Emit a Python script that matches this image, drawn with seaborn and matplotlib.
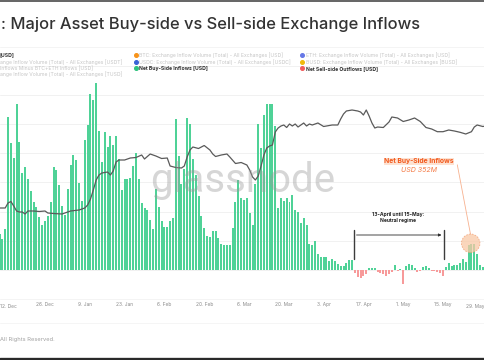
import numpy as np
import pandas as pd
import matplotlib
matplotlib.use("Agg")
import matplotlib.pyplot as plt
import seaborn as sns
from matplotlib.patches import Ellipse
from matplotlib.lines import Line2D

# ------------------------------------------------------------------ data
# daily net exchange flows (USD millions), first bar = 10 Dec 2022
first_day = -2          # days relative to 12 Dec 2022
net_flows = [
    495, 425, 560, 2095, 1740, 1535, 2275, 1755, 1330, 1410,
    1245, 1080, 930, 865, 725, 615, 670, 740, 930, 1410,
    1370, 1165, 875, 755, 1110, 1440, 1575, 1505, 1190, 945,
    1780, 1985, 2410, 2330, 2560, 1905, 1480, 1890, 1685, 1835,
    1710, 1835, 1520, 1095, 1245,
    1245, 1260, 1425, 1605, 1245, 920, 850, 820, 685, 560,
    1110, 865, 670, 590, 590, 670, 710, 2070, 1560, 1180,
    1385, 2080, 2000, 1520, 1300, 1015, 740, 575, 465, 450,
    535, 535, 440, 355, 345, 345, 345, 575, 930, 1235,
    985, 960,
    985, 780, 615, 1180, 2000, 1670, 2125, 2275, 2275, 2275,
    1975, 850, 985, 945, 985, 930, 1030, 820, 795, 645,
    710, 615, 355, 345, 395, 220, 180, 180, 180, 125,
    150, 125, 80, 55, 55, 95, 135, 135,
    -40, -95, -110, -80, -55, 25, 25, 25, -25, -40,
    -55, -80, -55, -25, 70, -15, 15, -190, 55, 80,
    70, 25, -25, -15, 40, 55, 25, -15, -15, -25,
    -40, -80, 40, 95, 55, 70, 70, 95, 150, 110,
    345, 352, 350, 220, 70, 40,
]

# grey reference line (right axis, arbitrary units)
line_days = [-2, 0, 1, 2, 3, 4, 5, 6, 7, 8, 10, 12, 14, 15, 17, 20, 21, 23, 26, 28,
             29, 30, 31, 32, 33, 34, 36, 37, 38, 39, 40, 42, 44, 46, 48, 49, 51, 53, 55, 57,
             58, 60, 62, 63, 64, 65, 66, 68, 70, 72, 73, 74, 76, 78, 79, 81, 83, 85, 86, 87,
             88, 89, 90, 91, 92, 93, 94, 95, 96, 97, 98, 99, 100, 101, 102, 103, 104, 105, 106, 107,
             108, 110, 112, 115, 117, 118, 119, 120, 122, 124, 125, 126, 127, 128, 129, 130, 131, 133, 135, 136,
             138, 140, 142, 144, 146, 148, 150, 152, 154, 156, 158, 160, 162, 164, 165, 166, 168, 169]
line_vals = [62, 62, 67, 68.5, 64, 59, 58, 58, 56, 59, 59, 58.5, 59, 57, 56.5, 56, 57, 59, 60, 62,
             65, 71, 80, 90, 95, 97, 98, 95, 99, 108, 110, 110, 112, 112.5, 115, 111, 116, 114, 111.5, 112,
             104, 102.5, 102, 104, 113, 120, 123, 121.5, 124.5, 120, 116, 113.5, 115, 116, 113, 106.5, 107.5, 105, 100, 93,
             90, 94, 104, 115, 122, 124, 125, 138, 142, 144, 145, 142.5, 146, 144, 146, 143, 145, 147, 144, 146,
             145, 147, 143.5, 145, 145, 151, 156, 159, 160, 159, 158, 155, 160, 154, 147, 142, 143, 142.5, 148, 153,
             152, 148.5, 150, 152, 148.5, 142.5, 141, 138.3, 138.3, 140, 139, 137.7, 136, 138.3, 143, 145, 143.5, 144]

tick_days = [0, 14, 28, 42, 56, 70, 84, 98, 112, 126, 140, 154, 168]
tick_labels = ["12. Dec", "26. Dec", "9. Jan", "23. Jan", "6. Feb", "20. Feb", "6. Mar",
               "20. Mar", "3. Apr", "17. Apr", "1. May", "15. May", "29. May"]

legend_left = ["[USD]",
               "ange Inflow Volume (Total) - All Exchanges [USDT]",
               "Inflows Minus BTC+ETH Inflows [USD]",
               "ange Inflow Volume (Total) - All Exchanges [TUSD]"]
legend_mid = ["BTC: Exchange Inflow Volume (Total) - All Exchanges [USD]",
              "USDC: Exchange Inflow Volume (Total) - All Exchanges [USDC]",
              "Net Buy-Side Inflows [USD]"]
legend_right = ["ETH: Exchange Inflow Volume (Total) - All Exchanges [USD]",
                "BUSD: Exchange Inflow Volume (Total) - All Exchanges [BUSD]",
                "Net Sell-side Outflows [USD]"]
mid_colors = ["#f7931a", "#3a63d6", "#2ec27e"]
right_colors = ["#6678e6", "#f0b90b", "#f25c5c"]

# ------------------------------------------------------------------ figure
W, H, DPI = 485, 360, 100
sns.set_theme(style="white")
plt.rcParams['font.family'] = ['Inter', 'DejaVu Sans']

fig = plt.figure(figsize=(W / DPI, H / DPI), dpi=DPI)
fig.patch.set_facecolor("white")


def fx(x):
    return x / W


def fy(y):
    return 1 - y / H


AX_TOP, AX_BOT, BASE = 47, 290, 270
MPX = 13.7                      # USD millions per pixel
DAY0_X, PX_DAY = 5.2, 2.843     # x pixel of 12 Dec and pixels per day
ax = fig.add_axes([0, fy(AX_BOT), 1, (AX_BOT - AX_TOP) / H])

df = pd.DataFrame({"day": np.arange(len(net_flows)) + first_day, "flow": net_flows})
df["side"] = np.where(df["flow"] >= 0, "buy", "sell")
sns.barplot(data=df, x="day", y="flow", hue="side",
            palette={"buy": "#4fd297", "sell": "#f79a9a"},
            native_scale=True, width=0.7, dodge=False, errorbar=None,
            saturation=1, legend=False, linewidth=0, ax=ax)

xlim = ((0 - DAY0_X) / PX_DAY, (W - DAY0_X) / PX_DAY)
ax.set_xlim(*xlim)
ax.set_ylim(-(AX_BOT - BASE) * MPX, (BASE - AX_TOP) * MPX)
ax.set_yticks(np.arange(0, 3000, 400))
ax.set_yticklabels([])
ax.grid(axis="y", color="#efefef", lw=0.6)
ax.grid(axis="x", visible=False)
ax.set_axisbelow(True)
for s in ax.spines.values():
    s.set_visible(False)
ax.set_xlabel("")
ax.set_ylabel("")

ax2 = ax.twinx()
sns.lineplot(x=line_days, y=line_vals, ax=ax2, color="#5a5a5a", lw=0.9)
ax2.set_ylim(-(AX_BOT - BASE), BASE - AX_TOP)
ax2.set_xlim(*xlim)
ax2.axis("off")

fig.canvas.draw()
R = fig.canvas.get_renderer()


def fit(text, target_w, **kw):
    t = fig.text(0, 0, text, fontsize=10, **kw)
    w = t.get_window_extent(renderer=R).width
    t.remove()
    return 10 * target_w / w


# x ticks (edge labels drawn as figure text so they stay inside the picture)
tick_fs = fit("26. Dec", 18)
ax.set_xticks(tick_days)
ax.set_xticklabels([""] + tick_labels[1:-1] + [""])
ax.tick_params(axis="x", length=0, pad=(306 - AX_BOT) * 0.72 * 0.75,
               labelsize=tick_fs, labelcolor="#8a8a8a")
ax.tick_params(axis="y", length=0)
fig.text(fx(0.5), fy(306.5), tick_labels[0], fontsize=tick_fs, color="#8a8a8a",
         ha="left", va="center")
fig.text(fx(484.5), fy(306.5), tick_labels[-1], fontsize=tick_fs, color="#8a8a8a",
         ha="right", va="center")

# frame lines
fig.add_artist(Line2D([0, 1], [fy(0.5), fy(0.5)], color="#4a4a4a", lw=1.2))
fig.add_artist(Line2D([0, 1], [fy(358.5), fy(358.5)], color="#2a2a2a", lw=2.4))
fig.add_artist(Line2D([0, 1], [fy(47), fy(47)], color="#f2f2f2", lw=0.6))
fig.add_artist(Line2D([0, 1], [fy(299), fy(299)], color="#f2f2f2", lw=0.6))
fig.add_artist(Line2D([0, 1], [fy(323), fy(323)], color="#f4f4f4", lw=0.6))

# title
title = ": Major Asset Buy-side vs Sell-side Exchange Inflows"
fs = fit(title, 420, fontweight="medium")
fig.text(fx(1), fy(24.5), title, fontsize=fs, fontweight="medium",
         color="#333333", ha="left", va="center")

# legend
leg_fs = fit(legend_right[0], 144)
rows = [55, 61.7, 68.3, 74.3]
for i, txt in enumerate(legend_left):
    fig.text(fx(0), fy(rows[i]), txt, fontsize=leg_fs, ha="left", va="center",
             color="#333333" if i == 0 else "#c6c6c6",
             fontweight="bold" if i == 0 else "normal")
for col_x, items, cols in [(135.7, legend_mid, mid_colors), (302.3, legend_right, right_colors)]:
    for i, (txt, c) in enumerate(zip(items, cols)):
        fig.add_artist(Line2D([fx(col_x)], [fy(rows[i])], marker="o", ms=2.6,
                              color=c, lw=0))
        last = i == 2
        fig.text(fx(col_x + 3.8), fy(rows[i]), txt, fontsize=leg_fs, ha="left", va="center",
                 color="#2b2b2b" if last else "#c6c6c6",
                 fontweight="bold" if last else "normal")

# watermark
wm_fs = fit("glassnode", 185, family="Roboto")
fig.text(fx(150), fy(181), "glassnode", fontsize=wm_fs, family="Roboto",
         color="#9a9a9a", alpha=0.4, ha="left", va="center", zorder=20)

# neutral regime bracket
fig.add_artist(Line2D([fx(354), fx(354)], [fy(230.5), fy(258.5)], color="#3c3c3c", lw=1.0))
fig.add_artist(Line2D([fx(444), fx(444)], [fy(230.5), fy(258.5)], color="#3c3c3c", lw=1.0))
fig.add_artist(plt.Annotation("", xy=(fx(441.5), fy(235)), xytext=(fx(356.5), fy(235)),
                              xycoords="figure fraction", textcoords="figure fraction",
                              arrowprops=dict(arrowstyle="-|>", color="#2a2a2a", lw=0.6,
                                              mutation_scale=4, shrinkA=0, shrinkB=0)))
br_fs = fit("13-April until 15-May:", 52.7, fontweight="bold")
fig.text(fx(398), fy(214.3), "13-April until 15-May:", fontsize=br_fs, fontweight="bold",
         color="#222222", ha="center", va="center")
fig.text(fx(398), fy(220.8), "Neutral regime", fontsize=br_fs, fontweight="bold",
         color="#222222", ha="center", va="center")

# net buy-side annotation
fig.add_artist(Ellipse((fx(470.7), fy(243.3)), 18.5 / W, 18.5 / H, facecolor="#f9c9a6",
                       alpha=0.75, edgecolor="#f39a6b", lw=0.6, ls=(0, (2, 1.5)), zorder=30))
fig.add_artist(Line2D([fx(457.3), fx(470.5)], [fy(164.8), fy(234.2)], color="#f7b18f", lw=0.6))
nb_fs = fit("Net Buy-Side Inflows", 70, fontweight="bold")
fig.text(fx(419), fy(161.2), "Net Buy-Side Inflows", fontsize=nb_fs, fontweight="bold",
         color="#f2581b", ha="center", va="center",
         bbox=dict(boxstyle="square,pad=0.08", facecolor="#fde2d2", edgecolor="none"))
usd_fs = fit("USD 352M", 36, fontstyle="italic")
fig.text(fx(419.5), fy(170), "USD 352M", fontsize=usd_fs, fontstyle="italic",
         color="#f47a45", ha="center", va="center")

# footer
ft_fs = fit("All Rights Reserved.", 54)
fig.text(fx(0.5), fy(340), "All Rights Reserved.", fontsize=ft_fs, color="#a0a0a0",
         ha="left", va="center")

fig.savefig("out.png", dpi=DPI, facecolor="white")
